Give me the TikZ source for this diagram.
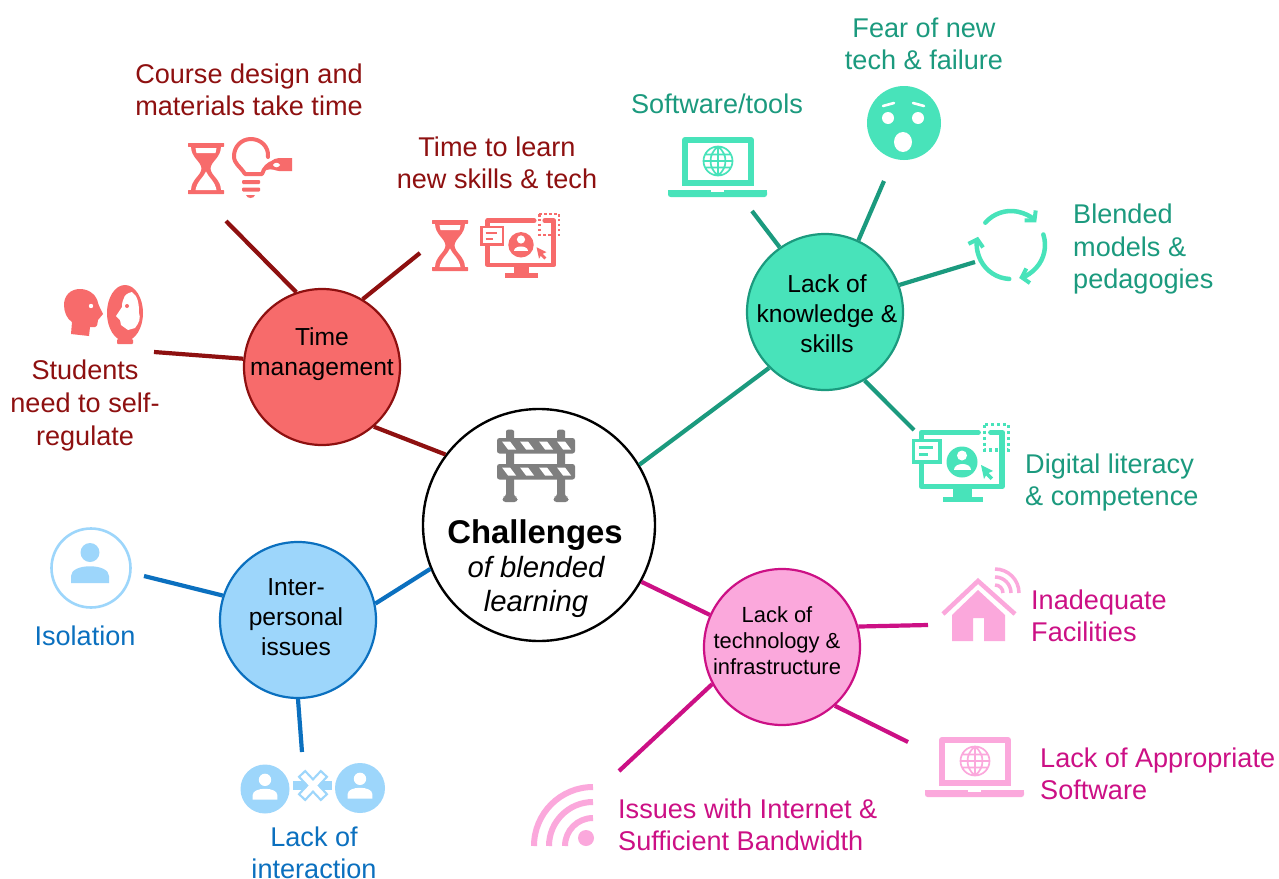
\documentclass[tikz,border=0pt]{standalone}
\usepackage{fontspec}
\setmainfont{Liberation Sans}
\usetikzlibrary{arrows.meta,calc}
\definecolor{rd}{HTML}{F76B6B}\definecolor{rdd}{HTML}{8E1010}
\definecolor{gr}{HTML}{48E3BA}\definecolor{grd}{HTML}{1B9A7E}
\definecolor{bl}{HTML}{9DD6FB}\definecolor{bld}{HTML}{0B70BF}
\definecolor{pk}{HTML}{FBA8DC}\definecolor{pkd}{HTML}{CC1085}
\definecolor{bar}{HTML}{7F7F7F}
\tikzset{
 hub/.style={circle,draw=#1,line width=2.2bp,minimum size=156bp,inner sep=0pt,align=center,text=black},
 hubtext/.style={align=center,text=black,font=\fontsize{24.7}{30}\selectfont,inner sep=0pt},
 lbl/.style={align=center,text=#1,font=\fontsize{27.2}{32.7}\selectfont,inner sep=0pt},
 lbll/.style={align=left,text=#1,font=\fontsize{27.2}{32.7}\selectfont,inner sep=0pt},
 link/.style={draw=#1,line width=4.2bp},
 ctitle/.style={anchor=base,inner sep=0pt,font=\fontsize{33}{35}\selectfont\bfseries},
 csub/.style={anchor=base,inner sep=0pt,font=\fontsize{29.4}{34}\selectfont\itshape},
}
\newcommand\hourglass[3]{\begin{scope}[shift={(#1,#2)}]
 \fill[#3,rounded corners=0.5bp] (0,0) rectangle (36,3.8);
 \fill[#3,rounded corners=0.5bp] (0,47.2) rectangle (36,51);
 \fill[#3] (3,3) .. controls (3,15) and (13,18) .. (13.5,25.5) .. controls (13,33) and (3,36) .. (3,48) -- (33,48) .. controls (33,36) and (23,33) .. (22.5,25.5) .. controls (23,18) and (33,15) .. (33,3) -- cycle;
 \fill[white] (7.5,5) -- (28.5,5) -- (27.5,10) -- (8.5,10) -- cycle;
 \fill[white] (18,28.5) .. controls (20,34) and (27,38) .. (28.5,47.2) -- (7.5,47.2) .. controls (9,38) and (16,34) .. (18,28.5) -- cycle;
\end{scope}}
\newcommand\monitor[4]{\begin{scope}[shift={(#1,#2)},scale=#3]
 \draw[#4,line width=5.8*#3 bp,line join=round,line cap=round] (9.5,18) -- (9.5,10.5) -- (66,10.5);
 \draw[#4,line width=5.8*#3 bp,line join=round,line cap=round] (79,10.5) -- (90,10.5) -- (90,64.5) -- (9.5,64.5) -- (9.5,42);
 \fill[#4] (41,67) rectangle (60,75); \fill[#4] (31,74.5) rectangle (71,80);
 \draw[#4,line width=3.2*#3 bp,fill=white] (1.5,18.5) rectangle (28,40);
 \draw[#4,line width=2.7*#3 bp] (7,25.5) -- (21,25.5) (7,32.5) -- (16,32.5);
 \fill[#4] (50,40) circle (15.5);
 \fill[white] (50,33.5) circle (5);
 \fill[white] (41.5,48) .. controls (41.5,40) and (58.5,40) .. (58.5,48) -- cycle;
 \fill[#4] (69,43) -- (81,49) -- (76.5,51) -- (81,55.5) -- (78.5,58) -- (74,53.5) -- (72,57) -- cycle;
 \draw[#4,line width=3.2*#3 bp,dash pattern=on 3*#3 bp off 3*#3 bp] (72.5,2.5) rectangle (96.5,28);
\end{scope}}
\newcommand\laptop[3]{\begin{scope}[shift={(#1,#2)}]
 \draw[#3,line width=6bp,line join=round] (17,3) rectangle (83,46);
 \fill[#3] (14,46) rectangle (86,49);
 \fill[#3,rounded corners=2.5bp] (0,53) -- (99,53) -- (99,60) -- (0,60) -- cycle;
 \fill[#3] (0,53) rectangle (99,56);
 \fill[white] (43,53) rectangle (56,54.5);
 \draw[#3,line width=1.7bp] (50,24) circle (14.5) (35.5,24) -- (64.5,24) (37,17.5) -- (63,17.5) (37,30.5) -- (63,30.5) (50,9.5) -- (50,38.5) (50,9.5) .. controls (40,17) and (40,31) .. (50,38.5) (50,9.5) .. controls (60,17) and (60,31) .. (50,38.5);
\end{scope}}
\newcommand\person[4]{\begin{scope}[shift={(#1,#2)},scale=#3]
 \fill[#4] (0,-9.5) circle (9.5);
 \fill[#4] (-19,21) -- (-19,14) .. controls (-19,1) and (19,1) .. (19,14) -- (19,21) -- cycle;
\end{scope}}
\newcommand\cyclearc[2]{% page angles, clockwise
 \draw[gr,line width=4.5bp,line cap=round,-{Straight Barb[length=6.5bp,width=15bp,line width=4bp]}] ($(cy)+({34*cos(#1)},{-34*sin(#1)})$) arc[start angle=-#1,end angle=-#2,radius=34];}
\begin{document}
\begin{tikzpicture}[x=1bp,y=-1bp]
\useasboundingbox (0,0) rectangle (1279,879);
\fill[white] (0,0) rectangle (1279,879);
\coordinate (t1) at (226,221); \coordinate (t2) at (420,253); \coordinate (t3) at (154,352);
\coordinate (k1) at (752,211); \coordinate (k2) at (884,181); \coordinate (k3) at (975,262); \coordinate (k4) at (914,430);
\coordinate (i1) at (144,576); \coordinate (i2) at (302,752);
\coordinate (e1) at (928,625); \coordinate (e2) at (908,742); \coordinate (e3) at (619,771);
\node[circle,draw=black,line width=2.4bp,fill=white,minimum size=232bp,inner sep=0pt] (c) at (539,525) {};
\node[hub=rdd,fill=rd] (t) at (322,367) {};
\node[hub=grd,fill=gr] (k) at (825,312) {};
\node[hub=bld,fill=bl] (i) at (298,620) {};
\node[hub=pkd,fill=pk] (e) at (782,647) {};
\draw[link=rdd] (c.143) -- (t.-49);
\draw[link=rdd] (t.109) -- (t1); \draw[link=rdd] (t.59) -- (t2); \draw[link=rdd] (t.174) -- (t3);
\draw[link=grd] (c.31) -- (k.-135);
\draw[link=grd] (k.125) -- (k1); \draw[link=grd] (k.65) -- (k2); \draw[link=grd] (k.20) -- (k3); \draw[link=grd] (k.-60) -- (k4);
\draw[link=bld] (c.-158) -- (i.12);
\draw[link=bld] (i.162) -- (i1); \draw[link=bld] (i.-90) -- (i2);
\draw[link=pkd] (c.-29) -- (e.156);
\draw[link=pkd] (e.15) -- (e1); \draw[link=pkd] (e.-48) -- (e2); \draw[link=pkd] (e.-152) -- (e3);
\node[hubtext] (tt) at (322,354) {Time\\management};
\node[hubtext] (kt) at (827,313.5) {Lack of\\knowledge \&\\skills};
\node[hubtext] (it) at (296,617) {Inter-\\personal\\issues};
\node[hubtext,font=\fontsize{22}{26}\selectfont] (et) at (777,640.5) {Lack of\\technology \&\\infrastructure};
\node[ctitle] (ct1) at (535,543) {Challenges};
\node[csub] (ct2) at (536,577) {of blended};
\node[csub] (ct3) at (536,611) {learning};
\node[lbl=rdd] (l1) at (249,90) {Course design and\\materials take time};
\node[lbl=rdd] (l2) at (497,163) {Time to learn\\new skills \& tech};
\node[lbl=rdd] (l3) at (85,405.5) {Students\\need to self-\\regulate};
\node[lbl=grd] (l4) at (717,104) {Software/tools};
\node[lbl=grd] (l5) at (924,44) {Fear of new\\tech \& failure};
\node[lbll=grd,anchor=west] (l6) at (1073,249) {Blended\\models \&\\pedagogies};
\node[lbll=grd,anchor=west] (l7) at (1025,482.5) {Digital literacy\\\& competence};
\node[lbl=bld] (l8) at (85,636) {Isolation};
\node[lbl=bld] (l9) at (314,853) {Lack of\\interaction};
\node[lbll=pkd,anchor=west] (l10) at (1031,616) {Inadequate\\Facilities};
\node[lbll=pkd,anchor=west] (l11) at (1040,774) {Lack of Appropriate\\Software};
\node[lbll=pkd,anchor=west] (l12) at (618,825) {Issues with Internet \&\\Sufficient Bandwidth};
% barrier
\fill[bar,rounded corners=3bp] (506,434) .. controls (506,429) and (514,429) .. (514,434) -- (514,497) -- (517.5,497) -- (517.5,502) -- (502.5,502) -- (502.5,497) -- (506,497) -- cycle;
\fill[bar,rounded corners=3bp] (557,434) .. controls (557,429) and (565,429) .. (565,434) -- (565,497) -- (568.5,497) -- (568.5,502) -- (553.5,502) -- (553.5,497) -- (557,497) -- cycle;
\fill[bar,rounded corners=2.5bp] (497,438) rectangle (575,453.5);
\fill[bar,rounded corners=2.5bp] (497,464) rectangle (575,479.5);
\foreach \y in {441.5,467.5}{
 \foreach \x in {506,524,543,561}{
  \fill[white] (\x-4,\y) -- (\x+4,\y) -- (\x+10,\y+8) -- (\x+2,\y+8) -- cycle;
 }}
% time icons
\hourglass{188}{143}{rd}
\hourglass{432}{220}{rd}
\monitor{480}{212}{0.82}{rd}
% bulb
\draw[rd,line width=4bp,line join=round,line cap=round] (268,157) .. controls (269,146) and (260,139) .. (251,139) .. controls (241,139) and (234,147) .. (234,156) .. controls (234,164) and (240,166) .. (245,174) -- (262,174) .. controls (264,168) and (268,164) .. (274,162);
\fill[rd,rounded corners=1bp] (242,180) rectangle (260,184) (242,187.5) rectangle (260,191.5);
\fill[rd] (246,195) -- (255,195) .. controls (254,199) and (247,199) .. (246,195) -- cycle;
\fill[rd] (270,163) .. controls (273,159) and (276,158) .. (279,158) -- (292,158) -- (292,171) -- (279,171) .. controls (276,171) and (272,168) .. (266,170) -- cycle;
\fill[white] (273,165) .. controls (275,162) and (278,162) .. (280,165) .. controls (278,168) and (275,168) .. (273,165) -- cycle;
% head and mirror
\fill[rd] (71,334) -- (89,336) -- (90,327) -- (95,327) .. controls (97,327) and (98,323) .. (98,320) -- (103,314) .. controls (101,310) and (99,306) .. (98,303) .. controls (97,296) and (90,289) .. (80,289) .. controls (70,289) and (64,296) .. (64,305) .. controls (64,312) and (67,319) .. (72,322) -- cycle;
\fill[white] (91,306) circle (2.2);
\fill[rd] (125,313) ellipse (18 and 28);
\fill[rd] (122,339) rectangle (128,341); \fill[rd,rounded corners=1bp] (117,339) rectangle (133,344);
\fill[white] (132,292) .. controls (127,293) and (124,296) .. (124,298) .. controls (122,302) and (122,305) .. (122,307) -- (116,316) -- (120,320) -- (121,325) -- (128,330) -- (135,328) .. controls (139,323) and (141,318) .. (139,313) .. controls (139,304) and (138,296) .. (132,292) -- cycle;
\fill[rd] (127,306) circle (2);
% green icons
\laptop{668}{137}{gr}
\fill[gr] (904,123) circle (37);
\fill[white] (888,118) circle (6) (918,118) circle (6);
\fill[white] (903,142) ellipse (9 and 10);
\draw[white,line width=2.6bp,line cap=round] (883,106) -- (894,103) (913,103) -- (924,106);
\coordinate (cy) at (1011,245);
\cyclearc{139}{42}
\cyclearc{18}{-76}
\cyclearc{-93}{-194}
\monitor{912}{422}{1}{gr}
% blue icons
\draw[bl,line width=2.6bp] (91,568) circle (39.5);
\person{90}{562}{1}{bl}
\fill[bl] (265,789) circle (24.5) (360,788) circle (25);
\person{265}{786}{0.65}{white}
\person{360}{785}{0.65}{white}
\fill[bl] (293,781) rectangle (332,790);
\draw[bl,line width=10.5bp,line cap=rect] (305,777) -- (321,794) (321,777) -- (305,794);
\draw[white,line width=6bp,line cap=rect] (305,777) -- (321,794) (321,777) -- (305,794);
% pink icons
\fill[pk] (952,615) -- (978,590) -- (1005,615) -- (1005,641) -- (984,641) -- (984,618) -- (973,618) -- (973,641) -- (952,641) -- cycle;
\draw[pk,line width=4.5bp] (943,614) -- (978,581) -- (1015,614);
\draw[pk,line width=3.5bp] (995,569) arc[start angle=270,end angle=360,radius=24] (995,577) arc[start angle=270,end angle=360,radius=16] (995,585) arc[start angle=270,end angle=360,radius=8];
\laptop{925}{737}{pk}
\fill[pk] (586,838) circle (8);
\draw[pk,line width=6bp] (534,846) arc[start angle=180,end angle=270,radius=59] (549,846) arc[start angle=180,end angle=270,radius=44] (565,846) arc[start angle=180,end angle=270,radius=28];
\end{tikzpicture}
\end{document}
